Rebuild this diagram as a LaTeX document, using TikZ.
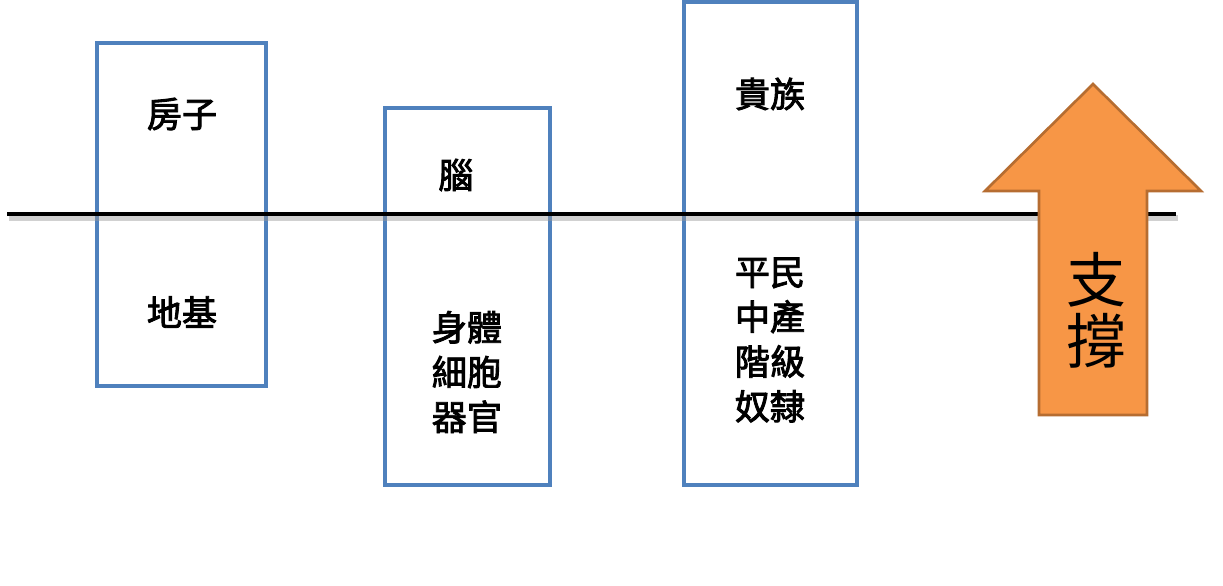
\documentclass[tikz,border=0pt]{standalone}
\usepackage{fontspec}
\newfontfamily\cjk{Noto Sans CJK TC}
\newfontfamily\cjkb[FakeBold=2.5]{Noto Sans CJK TC}
\definecolor{boxblue}{HTML}{4F81BD}
\definecolor{arrfill}{HTML}{F79646}
\definecolor{arrline}{HTML}{B66D31}
\tikzset{
  layer/.style={draw=boxblue, line width=2.1pt},
  word/.style={font=\cjkb\fontsize{20}{25.5}\selectfont, align=center, inner sep=0pt},
  bigword/.style={font=\cjk\fontsize{34}{34.5}\selectfont, align=center, inner sep=0pt}
}
\begin{document}
\begin{tikzpicture}[x=0.02cm,y=-0.02cm]
\useasboundingbox (0,0) rectangle (1223,585);
\draw[layer] (97,43) rectangle (266,386);
\draw[layer] (385,108) rectangle (550,485);
\draw[layer] (684,2) rectangle (857,485);
\node[word] (house) at (182,114) {房子};
\node[word] (base) at (182,312) {地基};
\node[word] (brain) at (456,175) {腦};
\node[word] (body) at (467,372) {身體\\細胞\\器官};
\node[word] (noble) at (770,94) {貴族};
\node[word] (folk) at (770,340) {平民\\中產\\階級\\奴隸};
% ground line
\draw[black!40, line width=3pt, opacity=0.45] (9,218) -- (1178,218);
\draw[line width=2.2pt] (7,214) -- (1176,214);
% support arrow
\draw[draw=arrline, fill=arrfill, line width=1.5pt, line join=miter]
  (1039,415) -- (1039,191) -- (985,191) -- (1093,84) -- (1201,191)
  -- (1147,191) -- (1147,415) -- cycle;
\node[bigword] (prop) at (1096,310) {支\\撐};
\end{tikzpicture}
\end{document}
